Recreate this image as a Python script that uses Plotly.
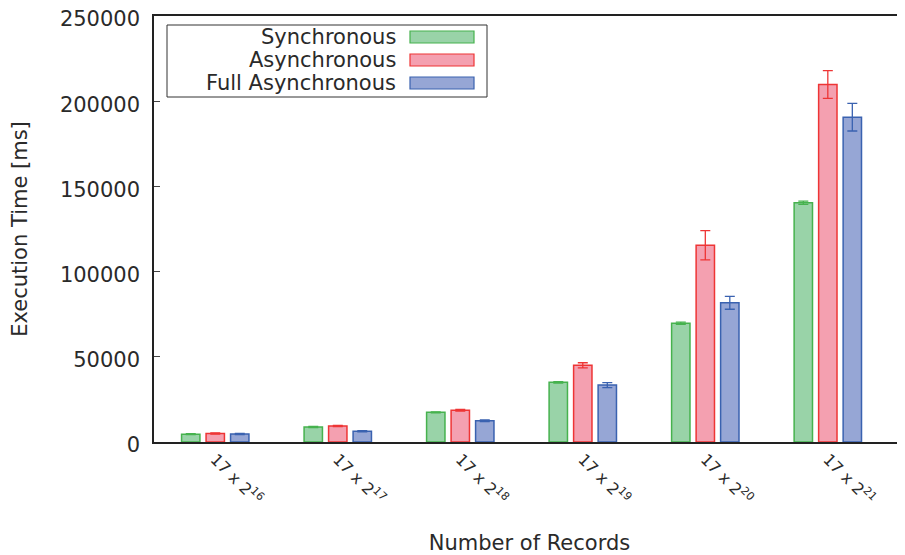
import plotly.graph_objects as go

# ---- data ----
categories = ["17 x 2<sup>16</sup>", "17 x 2<sup>17</sup>", "17 x 2<sup>18</sup>",
              "17 x 2<sup>19</sup>", "17 x 2<sup>20</sup>", "17 x 2<sup>21</sup>"]
series_names = ["Synchronous", "Asynchronous", "Full Asynchronous"]
sync_vals = [4600, 8800, 17400, 35000, 69700, 140400]
sync_err = [300, 300, 300, 400, 600, 1000]
async_vals = [5000, 9400, 18600, 45000, 115500, 209800]
async_err = [300, 400, 500, 1500, 8600, 8100]
full_vals = [4700, 6300, 12500, 33400, 81700, 190600]
full_err = [300, 300, 500, 1500, 3800, 8100]
y_ticks = [0, 50000, 100000, 150000, 200000, 250000]

fills = ["#99d3a8", "#f4a0b0", "#96a6d5"]
edges = ["#46b24e", "#ee3535", "#3a62b0"]
FONT = "DejaVu Sans"
TXT = "#2a2a2a"

x_idx = list(range(len(categories)))
vals = [sync_vals, async_vals, full_vals]
errs = [sync_err, async_err, full_err]

fig = go.Figure()
for name, v, e, fc, ec in zip(series_names, vals, errs, fills, edges):
    fig.add_trace(go.Bar(
        x=x_idx, y=v, name=name,
        marker=dict(color=fc, line=dict(color=ec, width=1.5)),
        error_y=dict(type="data", array=e, visible=True, color=ec,
                     thickness=1.3, width=5),
        showlegend=False,
    ))

# page has an 8px body margin, so the figure is drawn 8px smaller
fig.update_layout(
    width=897, height=547,
    margin=dict(l=146, r=0, t=8, b=113, autoexpand=False),
    paper_bgcolor="white", plot_bgcolor="white",
    barmode="group", bargap=0.4, bargroupgap=0.25,
    font=dict(family=FONT, color=TXT),
)
fig.update_xaxes(
    automargin=False,
    range=[-0.5, 5.63], tickmode="array", tickvals=x_idx, ticktext=categories,
    tickangle=45, tickfont=dict(size=16, family=FONT, color=TXT),
    showline=True, linecolor="#222222", linewidth=1.5, mirror=True,
    showgrid=False, zeroline=False, ticks="",
    title=dict(text="Number of Records", font=dict(size=21, family=FONT, color=TXT), standoff=30),
)
fig.update_yaxes(
    automargin=False,
    range=[0, 250000], tickvals=y_ticks, ticklabeloverflow="allow",
    ticklabelshift=3,
    tickformat="d", tickfont=dict(size=21, family=FONT, color=TXT),
    showline=True, linecolor="#222222", linewidth=1.5,
    showgrid=False, zeroline=False, ticks="inside", ticklen=6, tickcolor="#444444",
    ticklabelstandoff=8,
    title=dict(text="Execution Time [ms]", font=dict(size=21, family=FONT, color=TXT), standoff=27),
)

# ---- custom legend (text right-aligned, swatch on the right) ----
lx0, lx1, ly0, ly1 = 167, 487, 25, 97
def px(x):
    return (x - 154) / (905 - 154)
def py(y):
    return (442 - y) / (442 - 16)
fig.add_shape(type="rect", xref="paper", yref="paper",
              x0=px(lx0), x1=px(lx1), y0=py(ly1), y1=py(ly0),
              line=dict(color="#333333", width=1), fillcolor="white")
row_y = [37, 60, 83]
for name, fc, ec, ry in zip(series_names, fills, edges, row_y):
    fig.add_annotation(xref="paper", yref="paper", x=px(398), y=py(ry),
                       text=name, showarrow=False, xanchor="right", yanchor="middle",
                       font=dict(size=21, family=FONT, color=TXT))
    fig.add_shape(type="rect", xref="paper", yref="paper",
                  x0=px(410), x1=px(474), y0=py(ry + 6), y1=py(ry - 6),
                  line=dict(color=ec, width=1.2), fillcolor=fc)

fig.write_html("out.html")
